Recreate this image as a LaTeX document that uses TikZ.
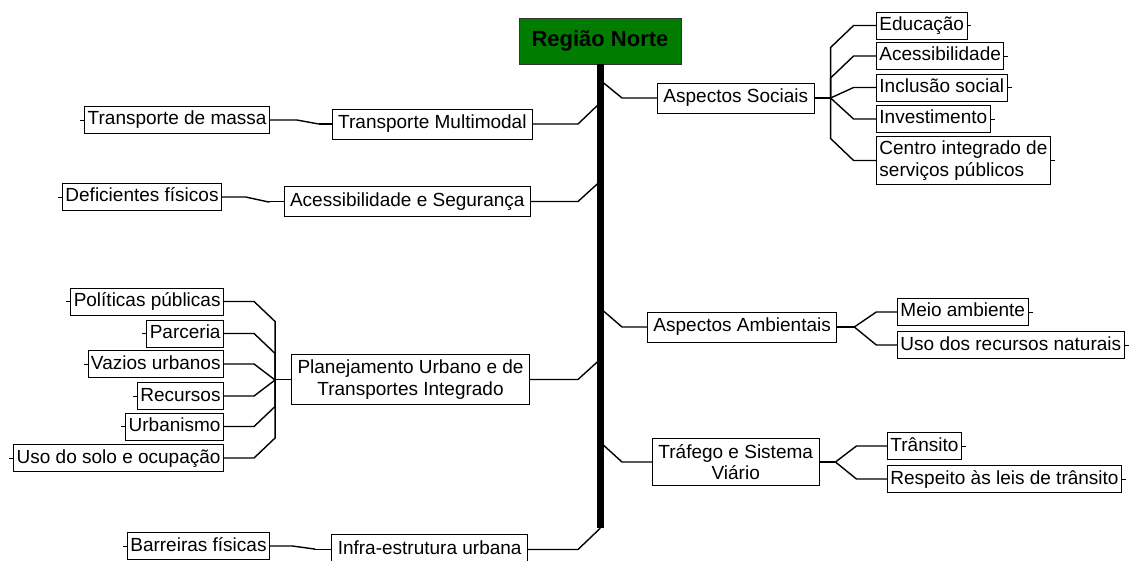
\documentclass[tikz,border=0pt]{standalone}
\usepackage{fontspec}
\setmainfont{Liberation Sans}
\usetikzlibrary{calc}

\definecolor{rootgreen}{RGB}{0,125,0}

% connector: junction, target anchor, horizontal run of the slant, slant start offset
\newcommand{\lnk}[4]{%
  \draw[branch] (#1) -- ($(#1 |- #2)+(0,#4)$) -- ($(#1 |- #2)+(#3,0)$) -- (#2);}

\begin{document}
\begin{tikzpicture}[x=1pt, y=-1pt,
  every node/.style={font=\fontsize{19}{21.5}\selectfont},
  topic/.style={draw, line width=0.9pt, fill=white, inner xsep=6pt, inner ysep=6pt,
    text height=14pt, text depth=4pt},
  topictwo/.style={draw, line width=0.9pt, fill=white, inner xsep=6pt, inner ysep=5.5pt,
    align=center},
  leaf/.style={draw, line width=0.9pt, fill=white, inner xsep=3pt, inner ysep=4.5pt,
    text height=14pt, text depth=4pt},
  leaftwo/.style={draw, line width=0.9pt, fill=white, inner xsep=3pt, inner ysep=4pt,
    align=left},
  branch/.style={line width=1.4pt},
  tick/.style={line width=0.9pt},
  trunk/.style={line width=7pt}]
  \useasboundingbox (0,0) rectangle (1130,561);

  \node[draw=black!80, line width=0.9pt, fill=rootgreen, minimum width=162pt, minimum height=46pt,
    font=\fontsize{22}{24}\selectfont\bfseries] (root) at (600,41) {Região Norte};
  \coordinate (tend) at (600,528);

  % first level, right
  \node[topic, anchor=west]     (soc)  at (657,98)    {Aspectos Sociais};
  \node[topic, anchor=west]     (amb)  at (647,327)   {Aspectos Ambientais};
  \node[topictwo, anchor=west]  (traf) at (652,462)   {Tráfego e Sistema\\Viário};

  % first level, left
  \node[topic, anchor=east]     (tmm)   at (533,124)   {Transporte Multimodal};
  \node[topic, anchor=east]     (aseg)  at (531,201.5) {Acessibilidade e Segurança};
  \node[topictwo, anchor=east]  (plan)  at (530,379.5) {Planejamento Urbano e de\\Transportes Integrado};
  \node[topic, anchor=east]     (infra) at (528,549.5) {Infra-estrutura urbana};

  % leaves, right
  \node[leaf, anchor=west]    (edu)    at (876,25.5)  {Educação};
  \node[leaf, anchor=west]    (acess)  at (876,56)    {Acessibilidade};
  \node[leaf, anchor=west]    (incl)   at (876,87.5)  {Inclusão social};
  \node[leaf, anchor=west]    (inv)    at (876,119)   {Investimento};
  \node[leaftwo, anchor=west] (centro) at (876,160.5) {Centro integrado de\\serviços públicos};
  \node[leaf, anchor=west]    (meio)   at (897,312)   {Meio ambiente};
  \node[leaf, anchor=west]    (usorec) at (897,345)   {Uso dos recursos naturais};
  \node[leaf, anchor=west]    (trans)  at (887,446)   {Trânsito};
  \node[leaf, anchor=west]    (resp)   at (887,479)   {Respeito às leis de trânsito};

  % leaves, left
  \node[leaf, anchor=east] (tmassa) at (270,120)   {Transporte de massa};
  \node[leaf, anchor=east] (def)    at (222,197)   {Deficientes físicos};
  \node[leaf, anchor=east] (pol)    at (224,301.5) {Políticas públicas};
  \node[leaf, anchor=east] (parc)   at (224,333.5) {Parceria};
  \node[leaf, anchor=east] (vaz)    at (224,364)   {Vazios urbanos};
  \node[leaf, anchor=east] (rec)    at (224,396)   {Recursos};
  \node[leaf, anchor=east] (urb)    at (224,426.5) {Urbanismo};
  \node[leaf, anchor=east] (usolo)  at (224,458)   {Uso do solo e ocupação};
  \node[leaf, anchor=east] (barr)   at (270,546)   {Barreiras físicas};

  % junctions beside the topics
  \coordinate (socJ)   at ($(soc.east)+(16,0)$);
  \coordinate (ambJ)   at ($(amb.east)+(17,0)$);
  \coordinate (trafJ)  at ($(traf.east)+(16,0)$);
  \coordinate (tmmJ)   at ($(tmm.west)+(-13,0)$);
  \coordinate (asegJ)  at ($(aseg.west)+(-15,0)$);
  \coordinate (planJ)  at ($(plan.west)+(-16,0)$);
  \coordinate (infraJ) at ($(infra.west)+(-17,0)$);

  \draw[branch] (soc.east)--(socJ) (amb.east)--(ambJ) (traf.east)--(trafJ);
  \draw[branch] (tmm.west)--(tmmJ) (aseg.west)--(asegJ) (plan.west)--(planJ)
    (infra.west)--(infraJ);

  % trunk
  \lnk{root.south}{soc.west}{22}{-18}
  \lnk{root.south}{amb.west}{22}{-19}
  \lnk{root.south}{traf.west}{22}{-20}
  \lnk{root.south}{tmm.east}{-22}{-21}
  \lnk{root.south}{aseg.east}{-22}{-20}
  \lnk{root.south}{plan.east}{-22}{-20}
  \lnk{root.south}{infra.east}{-22}{-21}
  \draw[trunk] (root.south) -- (tend);

  % leaves
  \lnk{socJ}{edu.west}{23}{22}
  \lnk{socJ}{acess.west}{23}{22}
  \lnk{socJ}{incl.west}{23}{10.5}
  \lnk{socJ}{inv.west}{23}{-21}
  \lnk{socJ}{centro.west}{23}{-22}
  \lnk{ambJ}{meio.west}{22}{15}
  \lnk{ambJ}{usorec.west}{22}{-18}
  \lnk{trafJ}{trans.west}{21}{16}
  \lnk{trafJ}{resp.west}{21}{-17}
  \lnk{tmmJ}{tmassa.east}{-22}{4}
  \lnk{asegJ}{def.east}{-23}{5}
  \lnk{planJ}{pol.east}{-21}{20}
  \lnk{planJ}{parc.east}{-21}{20}
  \lnk{planJ}{vaz.east}{-21}{16}
  \lnk{planJ}{rec.east}{-21}{-16}
  \lnk{planJ}{urb.east}{-21}{-20}
  \lnk{planJ}{usolo.east}{-21}{-20}
  \lnk{infraJ}{barr.east}{-22}{3}

  % small stubs on the outer side of the leaves
  \draw[tick] (edu.east)--++(4,0) (acess.east)--++(4,0) (incl.east)--++(4,0)
    (inv.east)--++(4,0) (centro.east)--++(4,0) (meio.east)--++(4,0)
    (usorec.east)--++(4,0) (trans.east)--++(4,0) (resp.east)--++(4,0);
  \draw[tick] (tmassa.west)--++(-4,0) (def.west)--++(-4,0) (pol.west)--++(-4,0)
    (parc.west)--++(-4,0) (vaz.west)--++(-4,0) (rec.west)--++(-4,0)
    (urb.west)--++(-4,0) (usolo.west)--++(-4,0) (barr.west)--++(-4,0);
\end{tikzpicture}
\end{document}
